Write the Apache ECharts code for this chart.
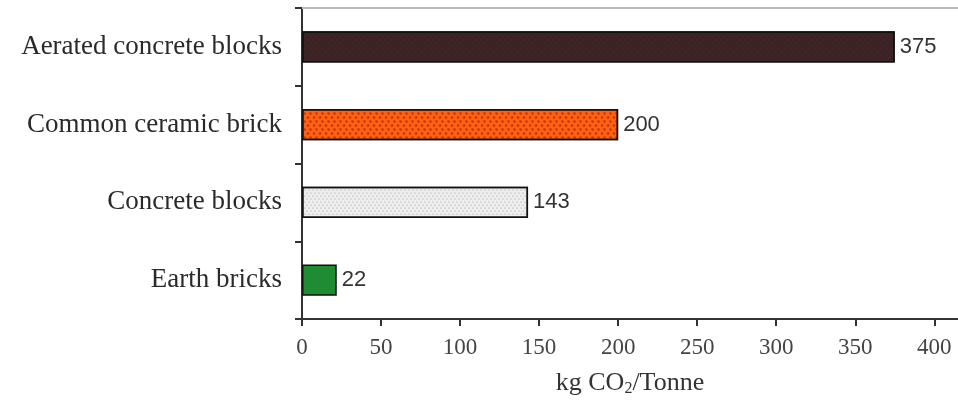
<!DOCTYPE html>
<html>
<head>
<meta charset="utf-8">
<script src="https://cdn.jsdelivr.net/npm/echarts@6/dist/echarts.min.js"></script>
<style>html,body{margin:0;padding:0;background:#fff}#c{width:958px;height:405px}</style>
</head>
<body>
<div id="c"></div>
<script>
const categories = ['Aerated concrete blocks', 'Common ceramic brick', 'Concrete blocks', 'Earth bricks'];
const values = [375, 200, 143, 22];
const xTicks = [0, 50, 100, 150, 200, 250, 300, 350, 400];

const fills = [
  { color: '#3a2225', decal: { symbol: 'rect', symbolSize: 0.6, dashArrayX: [[3, 3], [0, 3, 3, 0]], dashArrayY: [2, 1], color: 'rgba(90,45,50,0.6)' } },
  { color: '#ff6012', decal: { symbol: 'circle', symbolSize: 0.8, dashArrayX: [[4, 2], [0, 3, 3, 0]], dashArrayY: [3, 1], color: 'rgba(170,40,5,0.75)' } },
  { color: '#eeeeee', decal: { symbol: 'circle', symbolSize: 0.6, dashArrayX: [[2, 2], [0, 2, 2, 0]], dashArrayY: [2, 1], color: 'rgba(120,120,120,0.7)' } },
  { color: '#1f8c34', decal: null }
];

const serif = '"Liberation Serif", "DejaVu Serif", serif';
const chart = echarts.init(document.getElementById('c'), null, { renderer: 'canvas' });
chart.setOption({
  animation: false,
  backgroundColor: '#fff',
  grid: { left: 302, right: 0, top: 8, bottom: 86, containLabel: false },
  xAxis: [{
    type: 'value', min: 0, max: 415, interval: 50,
    axisLine: { show: true, lineStyle: { color: '#333', width: 2 } },
    axisTick: { show: true, length: 7, lineStyle: { color: '#333', width: 2 }, customValues: xTicks },
    axisLabel: { customValues: xTicks, margin: 17, fontFamily: serif, fontSize: 23, color: '#444' },
    splitLine: { show: false },
    name: '{a|kg CO}{s|2}{a|/Tonne}',
    nameLocation: 'middle', nameGap: 50,
    nameTextStyle: { rich: {
      a: { fontFamily: serif, fontSize: 26, color: '#333' },
      s: { fontFamily: serif, fontSize: 16, color: '#333', padding: [12, 0, 0, 0] }
    } }
  }, {
    type: 'value', position: 'top', min: 0, max: 415,
    axisLine: { show: true, lineStyle: { color: '#bbb', width: 2 } },
    axisTick: { show: false }, axisLabel: { show: false }, splitLine: { show: false }
  }],
  yAxis: {
    type: 'category', inverse: true, data: categories,
    axisLine: { show: true, lineStyle: { color: '#333', width: 2 } },
    axisTick: { show: true, length: 7, lineStyle: { color: '#333', width: 2 } },
    axisLabel: { margin: 20, fontFamily: serif, fontSize: 27, color: '#2a2a2a' }
  },
  series: [{
    type: 'bar', barWidth: '40%',
    data: values.map((v, i) => ({ value: v, itemStyle: { color: fills[i].color, decal: fills[i].decal, borderColor: '#111', borderWidth: 1.5 } })),
    label: { show: true, position: 'right', distance: 5, fontFamily: '"Liberation Sans", Arial, sans-serif', fontSize: 22, color: '#333' }
  }]
});
</script>
</body>
</html>
